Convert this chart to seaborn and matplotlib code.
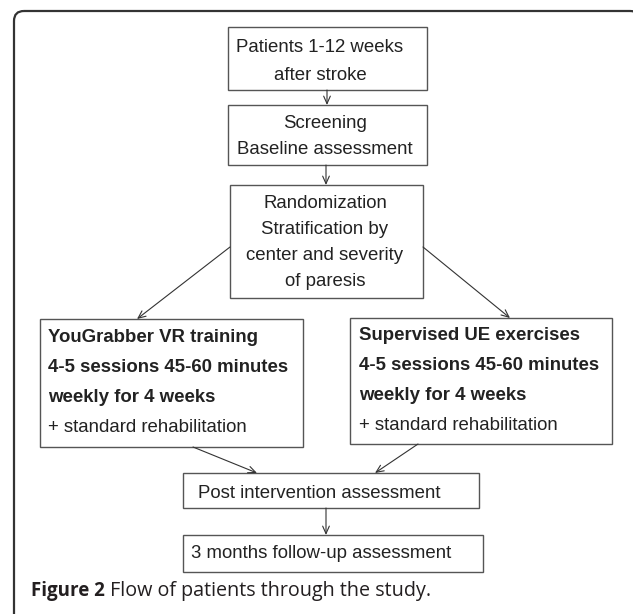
import matplotlib
matplotlib.use("Agg")
import matplotlib.pyplot as plt
import seaborn as sns
from matplotlib.patches import FancyBboxPatch, Rectangle

# Flowchart content
top_steps = [
    ["Patients 1-12 weeks", "after stroke"],
    ["Screening", "Baseline assessment"],
    ["Randomization", "Stratification by", "center and severity", "of paresis"],
]
arm_titles = [
    ["YouGrabber VR training", "4-5 sessions 45-60 minutes", "weekly for 4 weeks"],
    ["Supervised UE exercises", "4-5 sessions 45-60 minutes", "weekly for 4 weeks"],
]
arm_extra = ["+ standard rehabilitation", "+ standard rehabilitation"]
bottom_steps = ["Post intervention assessment", "3 months follow-up assessment"]
caption_bold = "Figure 2"
caption_rest = " Flow of patients through the study."

# Layout (pixels, y downwards)
top_boxes = [(228, 27, 427, 90), (228, 105, 427, 165), (230, 185, 423, 298)]
top_text_y = [[47, 76], [123, 149], [203, 230, 255, 282]]
top_text_x = [320, 325, 325]
arm_boxes = [(40, 319, 303, 447), (350, 318, 612, 444)]
arm_text_x = [48, 359]
arm_text_y = [[338, 367, 397, 427], [336, 366, 396, 426]]
bottom_boxes = [(183, 473, 479, 508), (183, 535, 483, 572)]
bottom_text_x = [198, 191]
bottom_text_y = [493, 554]

sns.set_theme(style="white")
plt.rcParams["font.family"] = ["Liberation Sans", "DejaVu Sans"]

fig = plt.figure(figsize=(6.33, 6.14), dpi=100)
ax = fig.add_axes([0, 0, 1, 1])
ax.set_xlim(0, 633)
ax.set_ylim(614, 0)
ax.axis("off")

frame = FancyBboxPatch((14, 11), 626, 700, boxstyle="round,pad=0,rounding_size=10",
                       fill=False, edgecolor="#333333", linewidth=1.6, clip_on=True)
ax.add_patch(frame)

box_color = "#555555"
text_color = "#222222"
fs = 13.4


def draw_box(b):
    x0, y0, x1, y1 = b
    ax.add_patch(Rectangle((x0, y0), x1 - x0, y1 - y0, fill=False,
                           edgecolor=box_color, linewidth=1.0))


def arrow(p0, p1):
    ax.annotate("", xy=p1, xytext=p0,
                arrowprops=dict(arrowstyle="->,head_length=0.45,head_width=0.2",
                                color="#333333", lw=0.8, shrinkA=0, shrinkB=0))


for b, lines, ys, cx in zip(top_boxes, top_steps, top_text_y, top_text_x):
    draw_box(b)
    for t, y in zip(lines, ys):
        ax.text(cx, y, t, ha="center", va="center", fontsize=fs, color=text_color)

for b, lines, extra, ys, x0 in zip(arm_boxes, arm_titles, arm_extra, arm_text_y, arm_text_x):
    draw_box(b)
    for t, y in zip(lines, ys[:3]):
        ax.text(x0, y, t, ha="left", va="center", fontsize=fs, fontweight="bold",
                color=text_color)
    ax.text(x0, ys[3], extra, ha="left", va="center", fontsize=fs, color=text_color)

for b, t, x0, y in zip(bottom_boxes, bottom_steps, bottom_text_x, bottom_text_y):
    draw_box(b)
    ax.text(x0, y, t, ha="left", va="center", fontsize=fs, color=text_color)

# arrows
arrow((327, 90), (327, 105))
arrow((326, 165), (326, 185))
arrow((230, 247), (137, 319))
arrow((423, 247), (510, 318))
arrow((193, 447), (257, 473))
arrow((418, 444), (375, 473))
arrow((326, 508), (326, 535))

cap_font = ["Open Sans", "DejaVu Sans"]
cap = ax.text(31, 591, caption_bold, ha="left", va="center", fontsize=13.5,
              fontweight="bold", color="#231f20", family=cap_font)
fig.canvas.draw()
bb = cap.get_window_extent()
x_end = ax.transData.inverted().transform((bb.x1, bb.y0))[0]
ax.text(x_end, 591, caption_rest, ha="left", va="center", fontsize=14.2,
        fontweight="medium", color="#231f20", family=cap_font)

fig.savefig("out.png", dpi=100)
